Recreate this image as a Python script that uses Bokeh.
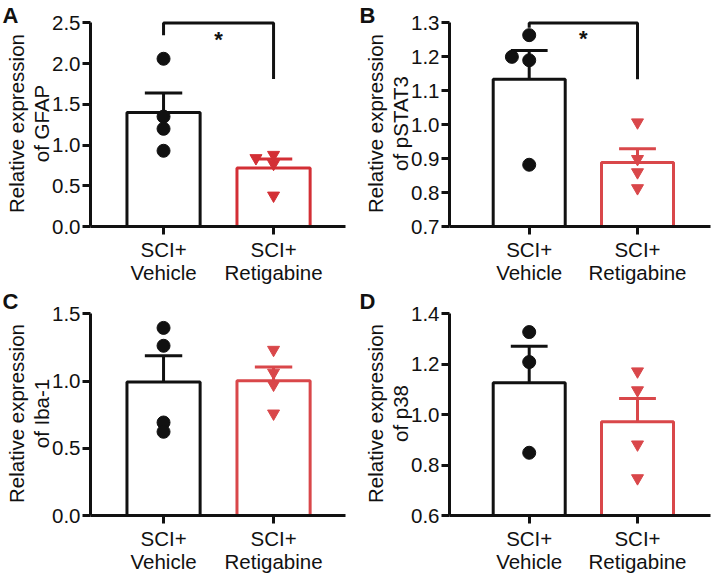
from bokeh.plotting import figure
from bokeh.layouts import gridplot
from bokeh.models import FixedTicker, Range1d, Title, LinearAxis
from bokeh.core.properties import value
from bokeh.embed import file_html
from bokeh.resources import INLINE

# ---------------- data ----------------
categories = ["SCI+\nVehicle", "SCI+\nRetigabine"]

gfap_vehicle = [2.06, 1.35, 1.20, 0.93]
gfap_retigabine = [0.84, 0.88, 0.77, 0.38]
gfap_mean = [1.40, 0.72]
gfap_sem = [0.24, 0.11]

pstat3_vehicle = [1.264, 1.20, 1.19, 0.882]
pstat3_retigabine = [1.007, 0.899, 0.86, 0.813]
pstat3_mean = [1.134, 0.889]
pstat3_sem = [0.085, 0.040]

iba1_vehicle = [1.396, 1.263, 0.692, 0.623]
iba1_retigabine = [1.233, 1.063, 0.974, 0.759]
iba1_mean = [0.993, 1.003]
iba1_sem = [0.196, 0.102]

p38_vehicle = [1.328, 1.209, 0.849]
p38_retigabine = [1.172, 1.097, 0.882, 0.748]
p38_mean = [1.127, 0.972]
p38_sem = [0.145, 0.092]

ticks_a = [0.0, 0.5, 1.0, 1.5, 2.0, 2.5]
ticks_b = [0.7, 0.8, 0.9, 1.0, 1.1, 1.2, 1.3]
ticks_c = [0.0, 0.5, 1.0, 1.5]
ticks_d = [0.6, 0.8, 1.0, 1.2, 1.4]

# significance: (y of bar, left leg end, right leg end, star y)
sig_a = [2.5, 2.35, 1.81, 2.30]
sig_b = [1.3, 1.286, 1.134, 1.255]

FONT = "Liberation Sans"
BLACK = "#111111"
FS = "20.5px"


def panel(letter, gene, ticks, veh, ret, mean, sem, red, w, h, borders,
          xstart, xend, veh_off, ret_off, sig=None, letter_standoff=-14):
    ylo, yhi = ticks[0], ticks[-1]
    pad = (yhi - ylo) * 0.012
    p = figure(width=w, height=h, output_backend="svg", toolbar_location=None,
               x_range=Range1d(xstart, xend), y_range=Range1d(ylo, yhi + pad),
               min_border_left=borders[0], min_border_right=borders[1],
               min_border_top=borders[2], min_border_bottom=borders[3])
    p.outline_line_color = None
    p.grid.visible = False
    p.background_fill_color = "white"

    xs = [1, 2]
    colors = [BLACK, red]
    p.vbar(x=xs, top=mean, bottom=ylo, width=0.665, fill_color="white",
           line_color=colors, line_width=3)
    tops = [m + s for m, s in zip(mean, sem)]
    p.segment(x0=xs, y0=mean, x1=xs, y1=tops, line_color=colors, line_width=3)
    p.segment(x0=[x - 0.17 for x in xs], y0=tops, x1=[x + 0.17 for x in xs],
              y1=tops, line_color=colors, line_width=3)
    p.scatter(x=[1 + o for o in veh_off], y=veh, marker="circle", size=13,
              fill_color=BLACK, line_color=BLACK)
    p.scatter(x=[2 + o for o in ret_off], y=ret, marker="inverted_triangle",
              size=12, fill_color=red, line_color=red)

    if sig is not None:
        ytop, yl, yr, ystar = sig
        p.line(x=[1, 1, 2, 2], y=[yl, ytop, ytop, yr], line_color=BLACK,
               line_width=3)
        p.text(x=[1.5], y=[ystar], text=["*"], text_font=value(FONT),
               text_font_size="22px", text_font_style="bold",
               text_align="center", text_baseline="middle", text_color=BLACK)

    # x axis: first label line on the main axis, second on a bare extra axis
    first = {i + 1: c.split("\n")[0] for i, c in enumerate(categories)}
    second = {i + 1: c.split("\n")[1] for i, c in enumerate(categories)}
    p.xaxis.ticker = FixedTicker(ticks=xs)
    p.xaxis.major_label_overrides = first
    p.xaxis.bounds = (xstart, xend)
    p.xaxis.major_label_standoff = 3
    xouter = LinearAxis(ticker=FixedTicker(ticks=xs), axis_line_color=None,
                        major_tick_line_color=None, minor_tick_line_color=None,
                        major_tick_out=0, minor_tick_out=0,
                        major_label_standoff=-3,
                        major_label_overrides=second)
    p.add_layout(xouter, "below")

    p.yaxis.ticker = FixedTicker(ticks=ticks)
    p.yaxis.major_label_overrides = {t: f"{t:.1f}" for t in ticks}
    p.yaxis.bounds = (ylo, yhi)
    p.yaxis.major_label_standoff = 2
    p.yaxis.axis_label = "of " + gene
    p.yaxis.axis_label_standoff = -4
    youter = LinearAxis(ticker=FixedTicker(ticks=[]), axis_line_color=None,
                        major_tick_line_color=None, minor_tick_line_color=None,
                        major_label_text_font_size="0px", major_label_standoff=0,
                        major_tick_out=0, minor_tick_out=0,
                        axis_label="Relative expression", axis_label_standoff=0)
    p.add_layout(youter, "left")

    for ax in (p.xaxis[0], p.yaxis[0]):
        ax.axis_line_width = 3
        ax.axis_line_color = BLACK
        ax.major_tick_line_width = 3
        ax.major_tick_line_color = BLACK
        ax.major_tick_out = 8
        ax.major_tick_in = 0
        ax.minor_tick_line_color = None
    for ax in (p.xaxis[0], xouter, p.yaxis[0]):
        ax.major_label_text_font = FONT
        ax.major_label_text_font_size = FS
        ax.major_label_text_color = BLACK
    for ax in (p.yaxis[0], youter):
        ax.axis_label_text_font = FONT
        ax.axis_label_text_font_size = FS
        ax.axis_label_text_font_style = "normal"
        ax.axis_label_text_color = BLACK

    p.add_layout(Title(text=letter, text_font=FONT, text_font_size="22px",
                       text_font_style="bold", text_color=BLACK,
                       align="left", vertical_align="bottom",
                       standoff=letter_standoff, offset=-borders[0] + 2),
                 "above")
    return p


RED_A = "#d32f35"
RED = "#d9474a"

pa = panel("A", "GFAP", ticks_a, gfap_vehicle, gfap_retigabine, gfap_mean,
           gfap_sem, RED_A, 357, 286, (90, 12, 20, 60), 0.336, 2.654,
           [0, 0, 0, 0], [-0.16, 0, 0, 0], sig_a, -14)
pb = panel("B", "pSTAT3", ticks_b, pstat3_vehicle, pstat3_retigabine,
           pstat3_mean, pstat3_sem, RED, 357, 286, (92, 4, 20, 60), 0.264,
           2.674, [0, -0.16, 0, 0], [0, 0, 0, 0], sig_b, -14)
pc = panel("C", "Iba-1", ticks_c, iba1_vehicle, iba1_retigabine, iba1_mean,
           iba1_sem, RED, 357, 289, (90, 12, 25, 59), 0.336, 2.654,
           [0, 0, 0, 0], [0, 0, 0, 0], None, -4)
pd_ = panel("D", "p38", ticks_d, p38_vehicle, p38_retigabine, p38_mean,
            p38_sem, RED, 357, 289, (92, 4, 25, 59), 0.264, 2.674,
            [0, 0, 0], [0, 0, 0, 0], None, -4)

grid = gridplot([[pa, pb], [pc, pd_]], toolbar_location=None)

open("out.html", "w").write(file_html(grid, INLINE))
